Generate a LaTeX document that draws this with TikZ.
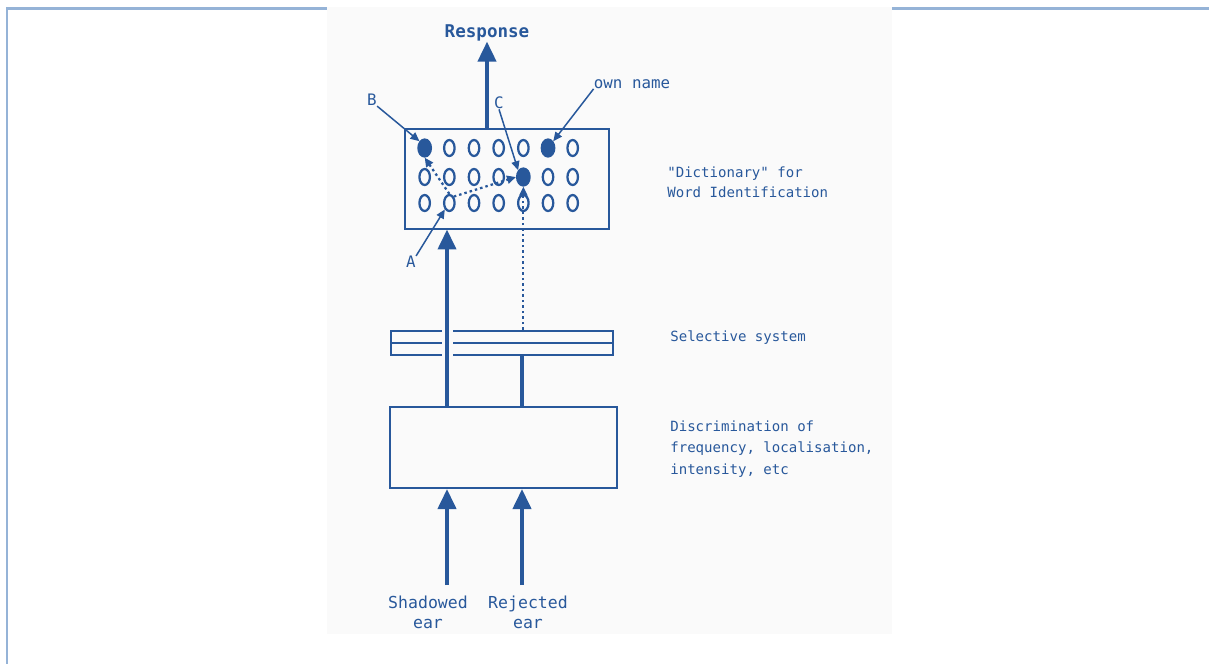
\documentclass[tikz,border=0pt]{standalone}
\usepackage{fontspec}
\newfontfamily\plotfont{DejaVu Sans Mono}
\usepackage{xcolor}
\definecolor{ink}{RGB}{40,88,155}
\definecolor{framebd}{RGB}{149,179,215}
\definecolor{panelbg}{RGB}{250,250,250}
\usetikzlibrary{positioning, arrows.meta, shapes.geometric}

\begin{document}
\begin{tikzpicture}[
  x=0.02cm, y=-0.02cm,
  box/.style={draw=ink, line width=0.04cm, inner sep=0pt},
  hollowoval/.style={ellipse, draw=ink, line width=0.045cm, minimum width=0.21cm,
              minimum height=0.32cm, inner sep=0pt},
  filledoval/.style={hollowoval, fill=ink, minimum width=0.25cm, minimum height=0.34cm},
  flow/.style={draw=ink, line width=0.08cm, -{Triangle[length=0.4cm, width=0.36cm]}},
  feed/.style={draw=ink, line width=0.08cm},
  halo/.style={draw=panelbg, line width=0.22cm},
  pointer/.style={draw=ink, line width=0.03cm, -{Triangle[length=0.18cm, width=0.16cm]}},
  trace/.style={draw=ink, line width=0.045cm, dash pattern=on 0.05cm off 0.06cm,
              -{Triangle[length=0.18cm, width=0.16cm]}},
  caption/.style={text=ink, anchor=west, align=left, inner sep=0pt,
              font=\plotfont\fontsize{8}{11.4}\selectfont},
  tag/.style={text=ink, inner sep=0pt, font=\plotfont\fontsize{9}{11.4}\selectfont},
  ear/.style={text=ink, inner sep=0pt, align=center,
              font=\plotfont\fontsize{9.4}{11.4}\selectfont},
]
\useasboundingbox (0,0) rectangle (1209,664);

% Page frame and scanned panel
\draw[framebd, line width=0.06cm] (6,8) -- (1209,8);
\draw[framebd, line width=0.06cm] (7,8) -- (7,664);
\fill[panelbg] (327,7) rectangle (892,634);

% Boxes
\node[box, minimum width=4.08cm, minimum height=2cm] (dict) at (507,178.5) {};
\node[box, minimum width=4.44cm, minimum height=0.48cm] (sel) at (502,342.5) {};
\node[box, minimum width=4.54cm, minimum height=1.62cm] (disc) at (503.5,447.5) {};
\draw[ink, line width=0.04cm] (sel.west) -- (sel.east);

% Word units in the dictionary
\foreach \r/\y/\kinds in {
    1/148/{filledoval,hollowoval,hollowoval,hollowoval,hollowoval,filledoval,hollowoval},
    2/177/{hollowoval,hollowoval,hollowoval,hollowoval,filledoval,hollowoval,hollowoval},
    3/203/{hollowoval,hollowoval,hollowoval,hollowoval,hollowoval,hollowoval,hollowoval}}
  \foreach \k [count=\c] in \kinds
    \node[\k] (o\r\c) at ({400+24.67*\c},\y) {};

% Lanes
\coordinate (laneL) at (447,0);
\coordinate (laneR) at (522,0);
\coordinate (earL) at (447,585);
\coordinate (earR) at (522,585);

% Labels
\node[text=ink, inner sep=0pt, font=\plotfont\bfseries\fontsize{10}{12}\selectfont]
  (resp) at (487,33) {Response};
\node[tag] (lblB) at (372,100) {B};
\node[tag] (lblC) at (499,103) {C};
\node[tag] (lblA) at (411,262) {A};
\node[tag] (lblown) at (632,84) {own name};
\node[caption] (dictcap) at (667,182) {"Dictionary" for\\Word Identification};
\node[caption] (selcap) at (670,338) {Selective system};
\node[caption, font=\plotfont\fontsize{8}{12.2}\selectfont] (disccap) at (670,449)
  {Discrimination of\\frequency, localisation,\\intensity, etc};
\node[ear] (shadow) at (428,612) {Shadowed\\ear};
\node[ear] (reject) at (528,612) {Rejected\\ear};

% Main channels
\draw[flow] (resp.south |- dict.north) -- (resp.south);
\draw[halo] (sel.north -| laneL) -- (sel.south -| laneL);
\draw[flow] (disc.north -| laneL) -- (dict.south -| laneL);
\draw[feed] (sel.south -| laneR) -- (disc.north -| laneR);
\draw[flow] (earL) -- (disc.south -| earL);
\draw[flow] (earR) -- (disc.south -| earR);

% Pointers to word units
\draw[pointer] (lblB.south east) -- (o11.north west);
\draw[pointer] (lblC.south) -- (o25.north west);
\draw[pointer] (lblown.south west) -- (o16.north east);
\draw[pointer] (lblA.north east) -- (o32.south west);

% Dotted traces
\draw[trace] (o32.north) -- (o11.south);
\draw[trace] (o32.north east) -- (o25.west);
\draw[trace] (sel.north -| o25) -- (o25.south);
\end{tikzpicture}
\end{document}
